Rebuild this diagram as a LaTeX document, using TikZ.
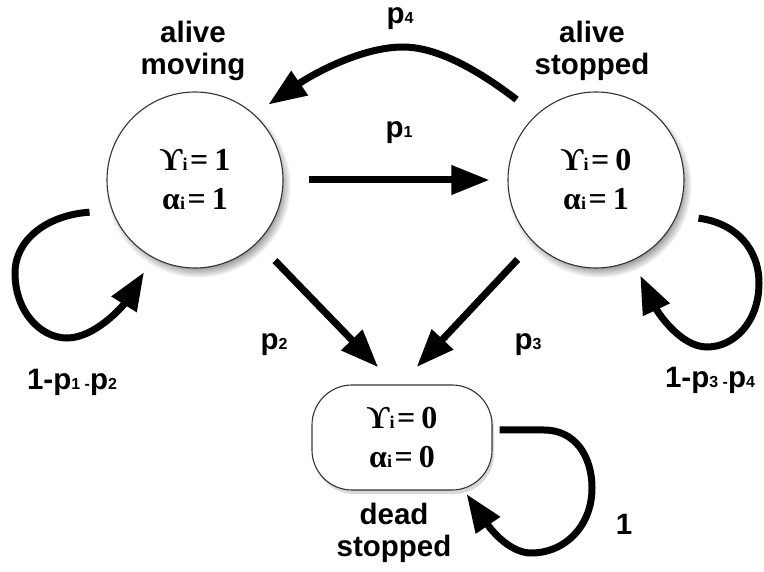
\documentclass[tikz,border=0pt]{standalone}
\usepackage{fontspec}
\setmainfont{Liberation Serif}
\newfontfamily\labfont{Liberation Sans}
\usetikzlibrary{arrows.meta,shadows,calc}
\newcommand\stfont{\bfseries\fontsize{32}{39}\selectfont}
\newcommand\lbfont{\labfont\bfseries\fontsize{29.5}{32}\selectfont}
\newcommand\sm[1]{{\fontsize{16}{16}\selectfont #1}}
\newcommand\smi{{\fontsize{18}{18}\selectfont i}}
\newcommand\eqv[1]{\smi\hspace{2.5pt}=\hspace{6pt}#1}
\tikzset{
  state/.style={circle, draw=black!80, line width=1.1pt, fill=white,
    minimum size=176pt, inner sep=0pt, align=center, font=\stfont,
    circular drop shadow={shadow xshift=3pt, shadow yshift=-5pt, shadow scale=1.05}},
  deadbox/.style={rectangle, rounded corners=40pt, draw=black!80, line width=1.1pt,
    fill=white, minimum width=180pt, minimum height=105pt, inner sep=0pt,
    align=center, font=\stfont,
    drop shadow={shadow xshift=2pt, shadow yshift=-4pt, opacity=0.3}},
  lab/.style={font=\lbfont, align=center, inner sep=0pt},
  conn/.style={line width=7pt, -{Triangle[length=38pt,width=28pt]}},
}
\begin{document}
\begin{tikzpicture}[x=1pt,y=1pt]
\useasboundingbox (0,0) rectangle (764,571);
\fill[white] (0,0) rectangle (764,571);

\node[state] (am) at (195,391) {ϒ\eqv{1}\\α\eqv{1}};
\node[state] (as) at (596,391) {ϒ\eqv{0}\\α\eqv{1}};
\node[deadbox] (ds) at (402,133.5) {ϒ\eqv{0}\\α\eqv{0}};

\node[lab] (tam) at (193,520) {alive\\moving};
\node[lab] (tas) at (592,520) {alive\\stopped};
\node[lab] (tds) at (394,38) {dead\\stopped};

\node[lab] (lp1) at (399,438) {p\sm{1}};
\node[lab] (lp4) at (400,552) {p\sm{4}};
\node[lab] (lp2) at (274,226) {p\sm{2}};
\node[lab] (lp3) at (528,226) {p\sm{3}};
\node[lab] (lll) at (72,189) {1-p\sm{1 -}p\sm{2}};
\node[lab] (lrl) at (710,191) {1-p\sm{3 -}p\sm{4}};
\node[lab] (lbl) at (624,47) {1};

% p1
\draw[conn, shorten <=25pt, shorten >=18pt] (am.east) -- (as.west);
% p2, p3
\draw[conn, shorten <=25pt, shorten >=17pt] (am.-45) -- ($(ds.north)+(-12,5)$);
\draw[conn, shorten <=23pt, shorten >=17pt] (as.-135) -- ($(ds.north)+(3,5)$);
% p4
\draw[conn] ($(as.135)+(-16.8,17.8)$) .. controls (487,494) and (442,524) .. (403,524)
   .. controls (360,524) and (310,495) .. ($(am.45)+(10.8,12.8)$);
% left self loop
\draw[conn] ($(am.197)+(-20.8,-6.3)$) .. controls (48,356) and (15,332) .. (15,298)
   .. controls (15,260) and (40,233) .. (67,233)
   .. controls (95,233) and (123,265) .. ($(am.241.5)+(-8,-14.7)$);
% right self loop
\draw[conn] ($(as.-20)+(19.3,-7.9)$) .. controls (736,348) and (759,322) .. (759,288)
   .. controls (759,250) and (735,224) .. (707,224)
   .. controls (680,224) and (657,260) .. ($(as.-65)+(6.8,-15.2)$);
% bottom self loop
\draw[conn] ($(ds.east)+(7,7.5)$) -- (544,141) .. controls (575,141) and (592,115) .. (592,83)
   .. controls (592,45) and (565,18) .. (531,18)
   .. controls (512,18) and (494,37) .. ($(ds.south east)+(-26,-3.5)$);
\end{tikzpicture}
\end{document}
